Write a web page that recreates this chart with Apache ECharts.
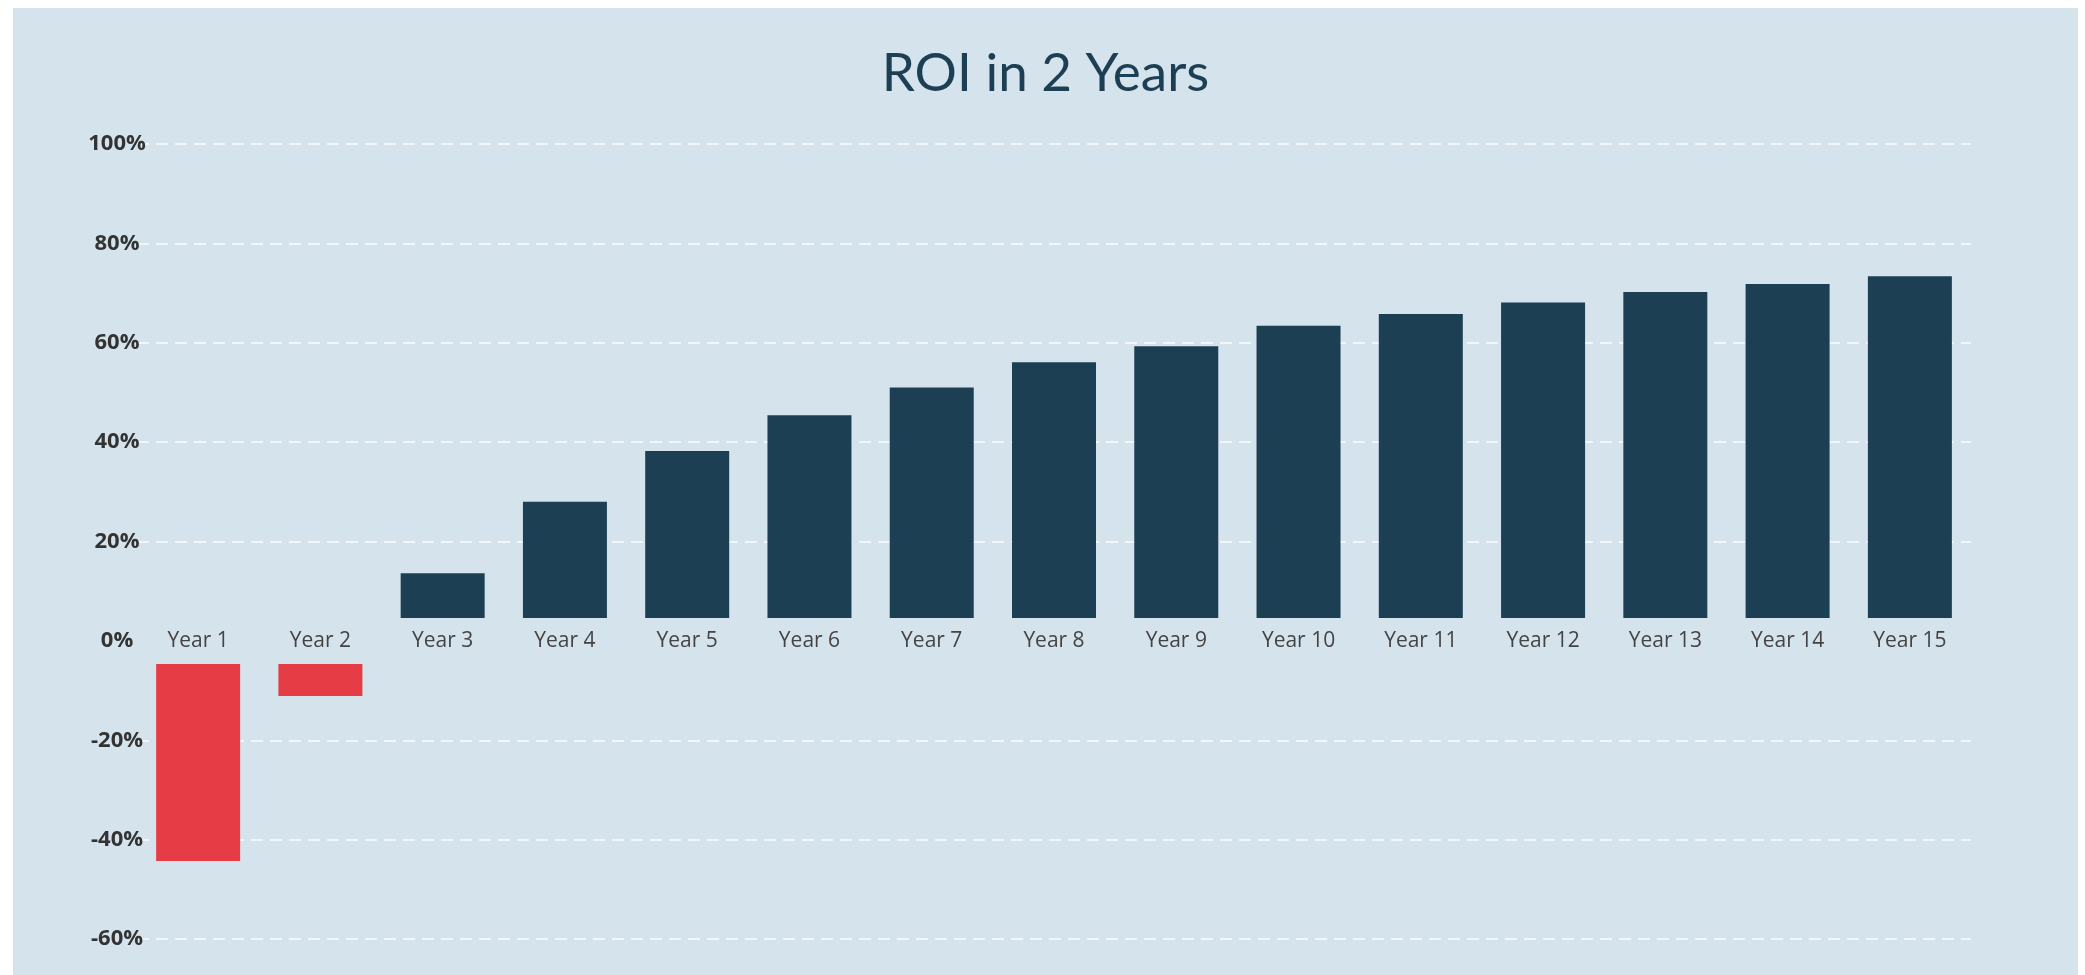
<!DOCTYPE html>
<html>
<head>
<meta charset="utf-8">
<title>ROI in 2 Years</title>
<script src="https://cdn.jsdelivr.net/npm/echarts@6/dist/echarts.min.js"></script>
<style>
  html, body { margin: 0; padding: 0; background: #ffffff; }
  #chart {
    position: absolute;
    left: 13px;
    top: 8px;
    width: 2065px;
    height: 967px;
    background: #d5e3ec;
  }
</style>
</head>
<body>
<div id="chart"></div>
<script>
// 年份类目
const years = ['Year 1', 'Year 2', 'Year 3', 'Year 4', 'Year 5', 'Year 6', 'Year 7', 'Year 8',
  'Year 9', 'Year 10', 'Year 11', 'Year 12', 'Year 13', 'Year 14', 'Year 15'];
// 每年的ROI（%）
const roi = [-44.3, -11.1, 13.6, 28.0, 38.2, 45.4, 51.0, 56.1, 59.3, 63.4, 65.8, 68.1, 70.2, 71.8, 73.4];
// y轴刻度
const yTicks = [-60, -40, -20, 0, 20, 40, 60, 80, 100];

const navy = '#1d3f54';
const red = '#e63c46';
// 柱子离零线留出的空隙（像素），给类目标签腾位置
const zeroGap = 23;

const chart = echarts.init(document.getElementById('chart'));

// 柱子从零线上下错开一点再画
function renderBar(params, api) {
  const idx = api.value(0);
  const v = api.value(1);
  const top = api.coord([idx, v]);
  const zero = api.coord([idx, 0]);
  const w = api.size([1, 0])[0] * 0.687;
  const base = zero[1] + (v >= 0 ? -zeroGap : zeroGap);
  return {
    type: 'rect',
    shape: {
      x: top[0] - w / 2,
      y: Math.min(base, top[1]),
      width: w,
      height: Math.abs(top[1] - base)
    },
    style: { fill: v < 0 ? red : navy }
  };
}

chart.setOption({
  backgroundColor: 'transparent',
  animation: false,
  title: {
    text: 'ROI in 2 Years',
    left: 'center',
    top: 34,
    textStyle: {
      fontFamily: 'Lato, "Noto Sans", sans-serif',
      fontWeight: 'normal',
      fontSize: 53,
      color: navy
    }
  },
  grid: { left: 124, right: 107, top: 136, bottom: 36 },
  xAxis: {
    type: 'category',
    data: years,
    axisLine: { show: false, onZero: false },
    axisTick: { show: false },
    axisLabel: {
      margin: 0,
      verticalAlign: 'middle',
      fontFamily: '"Open Sans", "Noto Sans", sans-serif',
      fontSize: 21,
      color: '#444444'
    },
    splitLine: { show: false }
  },
  yAxis: {
    type: 'value',
    min: yTicks[0],
    max: yTicks[yTicks.length - 1],
    interval: 20,
    axisLine: { show: false },
    axisTick: { show: false },
    axisLabel: {
      margin: 20,
      align: 'center',
      formatter: v => v + '%',
      fontFamily: '"Open Sans", "Noto Sans", sans-serif',
      fontWeight: 'bold',
      fontSize: 22,
      color: '#333333'
    },
    splitLine: {
      show: true,
      lineStyle: {
        color: yTicks.map(t => t === 0 ? 'rgba(0,0,0,0)' : 'rgba(255,255,255,0.9)'),
        width: 1.5,
        type: [12, 7]
      }
    }
  },
  series: [{
    type: 'custom',
    renderItem: renderBar,
    encode: { x: 0, y: 1 },
    data: roi.map((v, i) => [i, v])
  }]
});

// 把类目标签挪到0%那一行：用y轴换算出零线和底边的像素差
const zeroY = chart.convertToPixel({ yAxisIndex: 0 }, 0);
const bottomY = chart.convertToPixel({ yAxisIndex: 0 }, yTicks[0]);
chart.setOption({ xAxis: { offset: zeroY - bottomY } });
</script>
</body>
</html>
